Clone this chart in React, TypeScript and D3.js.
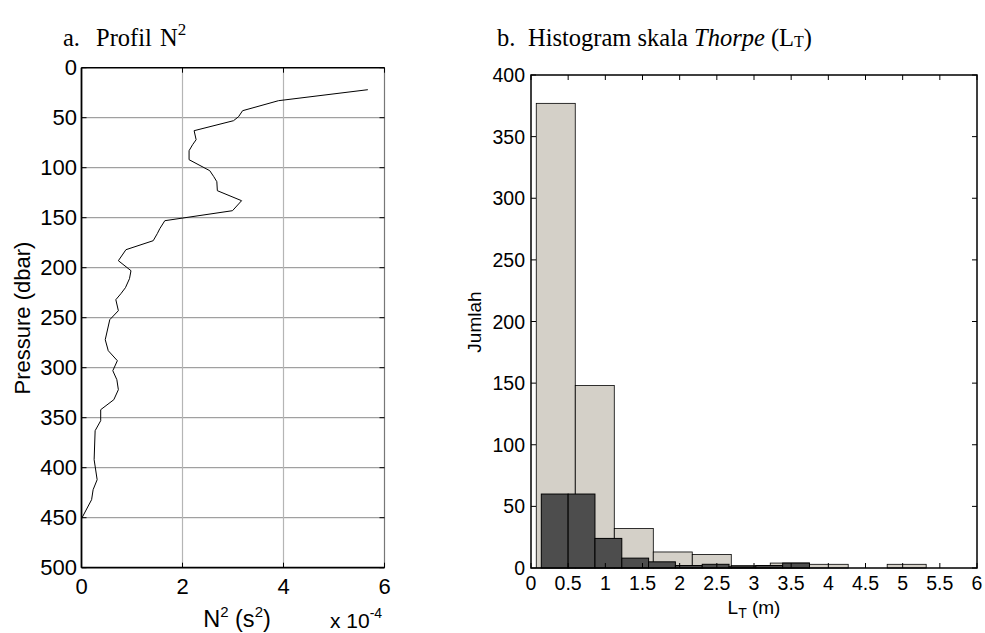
import React from 'react';
import * as d3 from 'd3';

// ---- Data: N^2 profile (x 10^-4 s^-2) vs pressure (dbar)
const pressure = [22, 33, 43, 49, 53, 63, 72, 77, 83, 92, 103, 109, 114, 123, 133, 143, 153, 161, 166, 173, 182, 193, 203, 211, 220, 226, 232, 243, 252, 272, 283, 293, 303, 312, 322, 332, 342, 353, 363, 392, 412, 422, 432, 451];
const n2 = [5.67, 3.90, 3.19, 3.11, 3.01, 2.23, 2.27, 2.20, 2.13, 2.13, 2.54, 2.62, 2.68, 2.69, 3.17, 2.99, 1.65, 1.55, 1.50, 1.42, 0.88, 0.73, 0.98, 0.95, 0.87, 0.78, 0.68, 0.73, 0.56, 0.47, 0.53, 0.71, 0.62, 0.70, 0.73, 0.64, 0.38, 0.38, 0.27, 0.25, 0.31, 0.23, 0.20, 0.00];
const leftXTicks = [0, 2, 4, 6];
const leftYTicks = [0, 50, 100, 150, 200, 250, 300, 350, 400, 450, 500];

// ---- Data: Thorpe scale histograms
const lightCenters = [0.333, 0.858, 1.383, 1.907, 2.432, 2.956, 3.481, 4.005, 4.530, 5.054];
const lightWidth = 0.5245;
const lightCounts = [377, 148, 32, 13, 11, 2, 4, 3, 0, 3];
const darkCenters = [0.319, 0.680, 1.041, 1.402, 1.762, 2.123, 2.484, 2.844, 3.205, 3.566];
const darkWidth = 0.3607;
const darkCounts = [60, 60, 24, 8, 5, 2, 3, 1, 2, 4];
const rightXTicks = [0, 0.5, 1, 1.5, 2, 2.5, 3, 3.5, 4, 4.5, 5, 5.5, 6];
const rightXTickLabels = ['0', '0.5', '1', '1.5', '2', '2.5', '3', '3.5', '4', '4.5', '5', '5.5', '6'];
const rightYTicks = [0, 50, 100, 150, 200, 250, 300, 350, 400];

const SANS = '"Liberation Sans", Arial, sans-serif';
const SERIF = '"Liberation Serif", "Times New Roman", serif';

export default function App() {
  // left panel scales
  const lx = d3.scaleLinear().domain([0, 6]).range([81.5, 384.5]);
  const ly = d3.scaleLinear().domain([0, 500]).range([67.7, 567.7]);
  // right panel scales
  const rx = d3.scaleLinear().domain([0, 6]).range([531, 977]);
  const ry = d3.scaleLinear().domain([0, 400]).range([568, 75]);

  const line = d3.line<number>()
    .x((_, i) => lx(n2[i]))
    .y((_, i) => ly(pressure[i]));

  const tk = 5;

  return (
    <svg width={985} height={633} style={{ position: 'absolute', left: 0, top: 0, background: '#fff' }}>
      <rect x={0} y={0} width={985} height={633} fill="#fff" />

      {/* Titles */}
      <g fontFamily={SERIF} fontSize={24.5} fill="#000">
        <text x={63} y={46}>a.</text>
        <text x={96} y={46}>Profil <tspan dx={2}>N</tspan><tspan fontSize={17} dy={-11}>2</tspan></text>
        <text x={497} y={46}>b.</text>
        <text x={528} y={46}>
          Histogram skala <tspan fontStyle="italic">Thorpe</tspan> (L<tspan fontSize={16} dy={1}>T</tspan><tspan dy={-1}>)</tspan>
        </text>
      </g>

      {/* ===== Left panel ===== */}
      <g>
        {/* grid */}
        {leftYTicks.filter(t => t > 0 && t < 500).map(t => (
          <line key={'gy' + t} x1={lx(0)} x2={lx(6)} y1={ly(t)} y2={ly(t)} stroke="#8a8a8a" strokeWidth={1} />
        ))}
        {leftXTicks.filter(t => t > 0 && t < 6).map(t => (
          <line key={'gx' + t} x1={lx(t)} x2={lx(t)} y1={ly(0)} y2={ly(500)} stroke="#b5b5b5" strokeWidth={1.2} />
        ))}
        {/* box */}
        <line x1={lx(6)} x2={lx(6)} y1={ly(0)} y2={ly(500)} stroke="#777" strokeWidth={1.2} />
        <line x1={lx(0)} x2={lx(6)} y1={ly(0)} y2={ly(0)} stroke="#000" strokeWidth={1.5} />
        <line x1={lx(0)} x2={lx(6)} y1={ly(500)} y2={ly(500)} stroke="#000" strokeWidth={1.8} />
        <line x1={lx(0)} x2={lx(0)} y1={ly(0)} y2={ly(500)} stroke="#000" strokeWidth={1.8} />
        {/* ticks */}
        {leftYTicks.map(t => (
          <g key={'ty' + t}>
            <line x1={lx(0)} x2={lx(0) + tk} y1={ly(t)} y2={ly(t)} stroke="#000" />
            <line x1={lx(6)} x2={lx(6) - tk} y1={ly(t)} y2={ly(t)} stroke="#000" />
          </g>
        ))}
        {leftXTicks.map(t => (
          <g key={'tx' + t}>
            <line x1={lx(t)} x2={lx(t)} y1={ly(500)} y2={ly(500) - tk} stroke="#000" />
            <line x1={lx(t)} x2={lx(t)} y1={ly(0)} y2={ly(0) + tk} stroke="#000" />
          </g>
        ))}
        {/* profile line */}
        <path d={line(pressure) || ''} fill="none" stroke="#000" strokeWidth={1} />
        {/* tick labels */}
        <g fontFamily={SANS} fontSize={22} fill="#000">
          {leftYTicks.map(t => (
            <text key={'ly' + t} x={77} y={ly(t)} textAnchor="end" dominantBaseline="central">{t}</text>
          ))}
          {leftXTicks.map(t => (
            <text key={'lx' + t} x={lx(t)} y={594} textAnchor="middle">{t}</text>
          ))}
          <text x={237} y={627} textAnchor="middle" fontSize={23.5}>N<tspan fontSize={15} dy={-10}>2</tspan><tspan dy={10}> (s</tspan><tspan fontSize={15} dy={-10}>2</tspan><tspan dy={10}>)</tspan></text>
          <text x={330} y={628} fontSize={21}>x 10<tspan fontSize={14} dy={-10}>-4</tspan></text>
          <text transform="translate(30,318) rotate(-90)" textAnchor="middle">Pressure (dbar)</text>
        </g>
      </g>

      {/* ===== Right panel ===== */}
      <g>
        {lightCounts.map((c, i) => (
          <rect key={'lb' + i}
            x={rx(lightCenters[i] - lightWidth / 2)} y={ry(c)}
            width={rx(lightCenters[i] + lightWidth / 2) - rx(lightCenters[i] - lightWidth / 2)}
            height={ry(0) - ry(c)}
            fill="#d4d0c8" stroke="#000" strokeWidth={0.8} />
        ))}
        {darkCounts.map((c, i) => (
          <rect key={'db' + i}
            x={rx(darkCenters[i] - darkWidth / 2)} y={ry(c)}
            width={rx(darkCenters[i] + darkWidth / 2) - rx(darkCenters[i] - darkWidth / 2)}
            height={ry(0) - ry(c)}
            fill="#4d4d4d" stroke="#000" strokeWidth={1} />
        ))}
        {/* box */}
        <rect x={rx(0)} y={ry(400)} width={rx(6) - rx(0)} height={ry(0) - ry(400)} fill="none" stroke="#000" strokeWidth={1.5} />
        {/* ticks */}
        {rightYTicks.map(t => (
          <g key={'rty' + t}>
            <line x1={rx(0)} x2={rx(0) + tk} y1={ry(t)} y2={ry(t)} stroke="#000" />
            <line x1={rx(6)} x2={rx(6) - tk} y1={ry(t)} y2={ry(t)} stroke="#000" />
          </g>
        ))}
        {rightXTicks.map(t => (
          <g key={'rtx' + t}>
            <line x1={rx(t)} x2={rx(t)} y1={ry(0)} y2={ry(0) - tk} stroke="#000" />
            <line x1={rx(t)} x2={rx(t)} y1={ry(400)} y2={ry(400) + tk} stroke="#000" />
          </g>
        ))}
        <g fontFamily={SANS} fontSize={19.5} fill="#000">
          {rightYTicks.map(t => (
            <text key={'ry' + t} x={525} y={ry(t)} textAnchor="end" dominantBaseline="central">{t}</text>
          ))}
          {rightXTicks.map((t, i) => (
            <text key={'rx' + t} x={rx(t)} y={590} textAnchor="middle">{rightXTickLabels[i]}</text>
          ))}
          <text x={754} y={614} textAnchor="middle" fontSize={19}>L<tspan fontSize={14} dy={4}>T</tspan><tspan dy={-4}> (m)</tspan></text>
          <text transform="translate(481,322) rotate(-90)" textAnchor="middle" fontSize={19}>Jumlah</text>
        </g>
      </g>
    </svg>
  );
}
